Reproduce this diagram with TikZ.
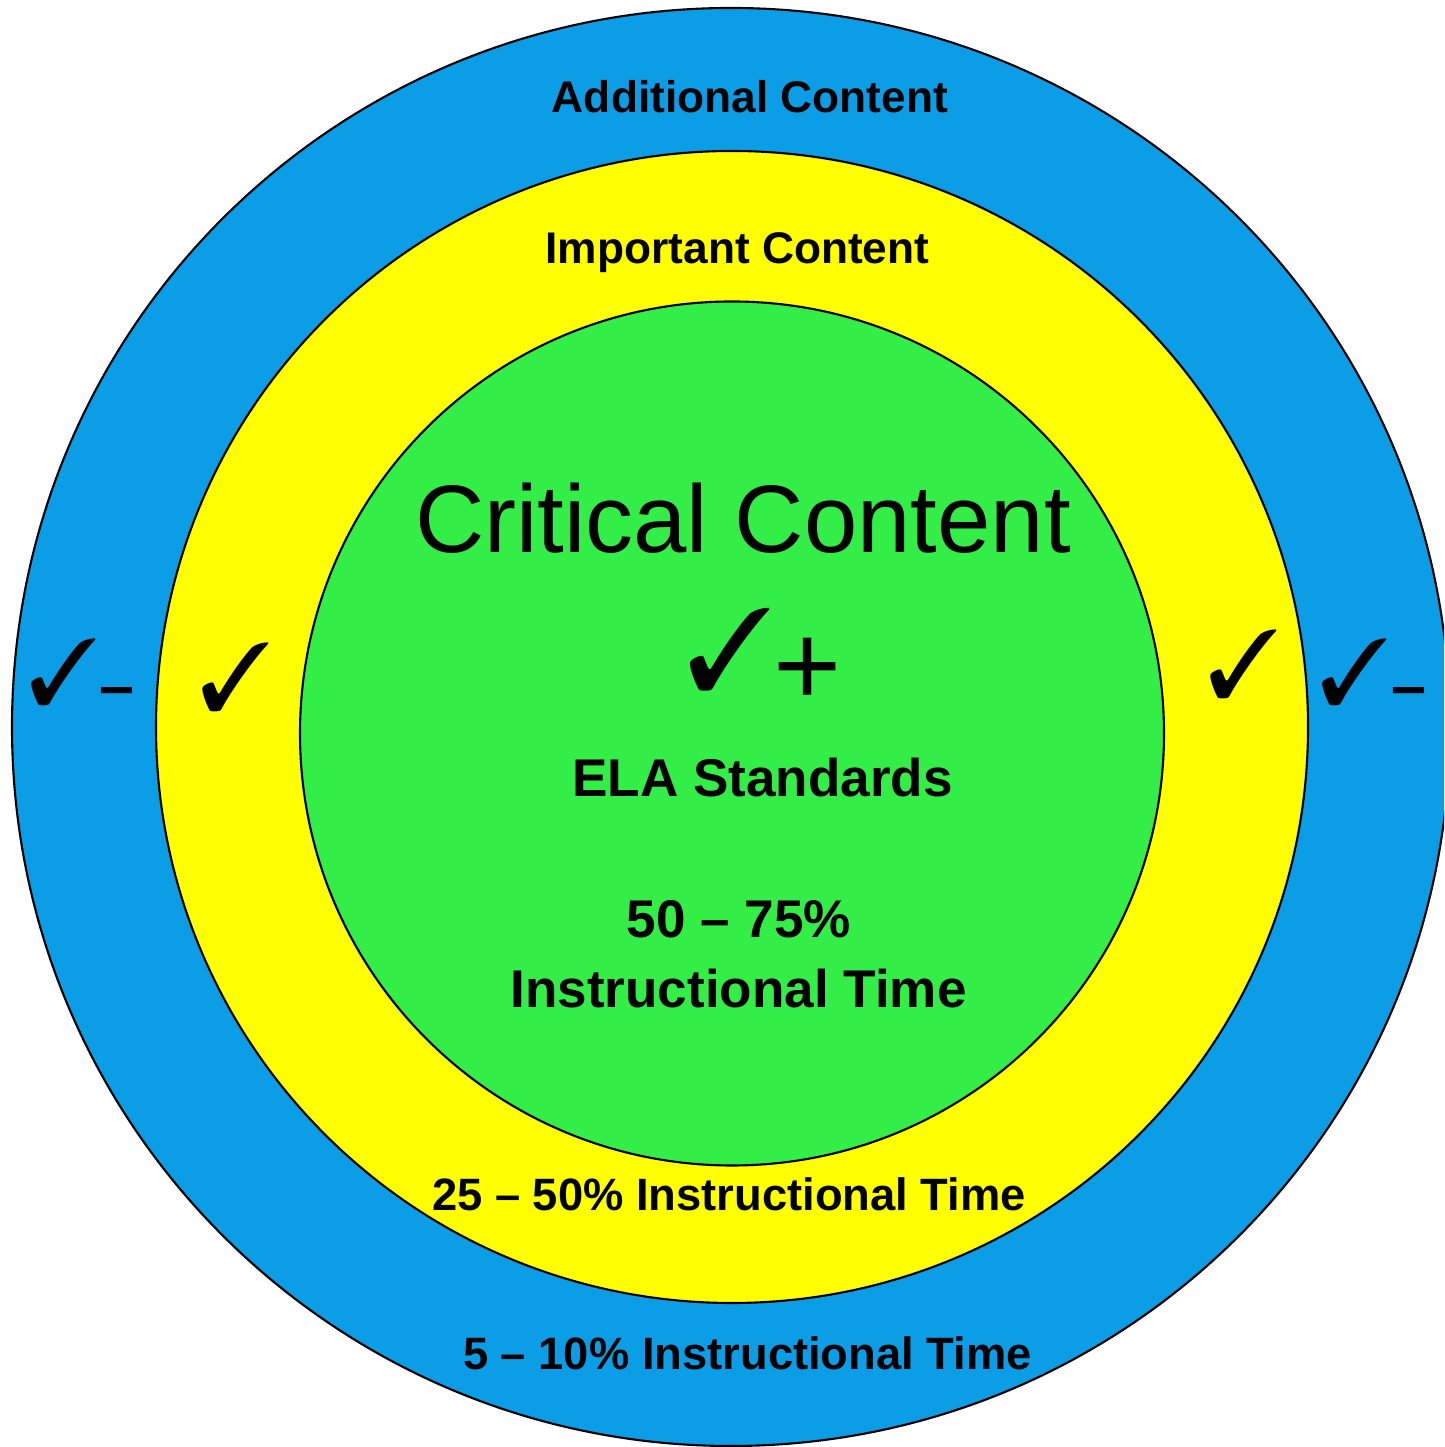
\documentclass[tikz,border=0pt]{standalone}
\usepackage{fontspec}
\setmainfont{Liberation Sans}
\usepackage{pifont}
\definecolor{outerblue}{RGB}{11,157,229}
\definecolor{midyellow}{RGB}{255,255,0}
\definecolor{coregreen}{RGB}{51,238,70}

\begin{document}
\begin{tikzpicture}[
    ring/.style={draw=black, line width=0.6pt},
    lbl/.style={anchor=base, inner sep=0pt, font=\bfseries\fontsize{12.6}{15}\selectfont},
    timelbl/.style={anchor=base, inner sep=0pt, font=\bfseries\fontsize{12.9}{15}\selectfont},
    corelbl/.style={anchor=base, inner sep=0pt, font=\bfseries\fontsize{15.1}{18}\selectfont},
    tick/.style={inner sep=0pt, font=\fontsize{#1}{#1}\selectfont},
    dashmark/.style={inner sep=0pt, font=\bfseries\fontsize{17.9}{20}\selectfont}
  ]
	    \useasboundingbox (0,0) rectangle (14.44,14.47);
	    \clip (0,0) rectangle (14.44,14.47);
	    % rings
	    \draw[ring, fill=outerblue] (7.31,7.20) circle (7.19);
	    \draw[ring, fill=midyellow] (7.32,7.20) circle (5.76);
	    \draw[ring, fill=coregreen] (7.32,7.135) circle (4.32);
	    % outer ring
	    \node[lbl] (additional) at (7.50,13.34) {Additional Content};
	    \node[timelbl] (lowtime) at (7.475,0.77) {5 -- 10\% Instructional Time};
	    \node[tick=26.5] (outerl) at (0.635,7.75) {\ding{51}};
	    \node[dashmark] (outerldash) at (1.165,7.49) {--};
	    \node[tick=26.5] (outerr) at (13.55,7.75) {\ding{51}};
	    \node[dashmark] (outerrdash) at (14.085,7.49) {--};
	    % middle ring
	    \node[lbl] (important) at (7.375,11.83) {Important Content};
	    \node[timelbl] (midtime) at (7.29,2.36) {25 -- 50\% Instructional Time};
	    \node[tick=27.3] (midl) at (2.355,7.70) {\ding{51}};
	    \node[tick=27.3] (midr) at (12.435,7.825) {\ding{51}};
	    % core
	    \node[anchor=base, inner sep=0pt, font=\fontsize{27.3}{32}\selectfont] (critical) at (7.43,8.94) {Critical Content};
	    \node[tick=32.8] (corecheck) at (7.305,7.98) {\ding{51}};
	    \node[tick=33.2] (coreplus) at (8.075,7.755) {+};
	    \node[corelbl] (ela) at (7.625,6.50) {ELA Standards};
	    \node[corelbl] (corepct) at (7.39,5.09) {50 -- 75\%};
	    \node[corelbl] (coretime) at (7.385,4.39) {Instructional Time};
	  \end{tikzpicture}
\end{document}
